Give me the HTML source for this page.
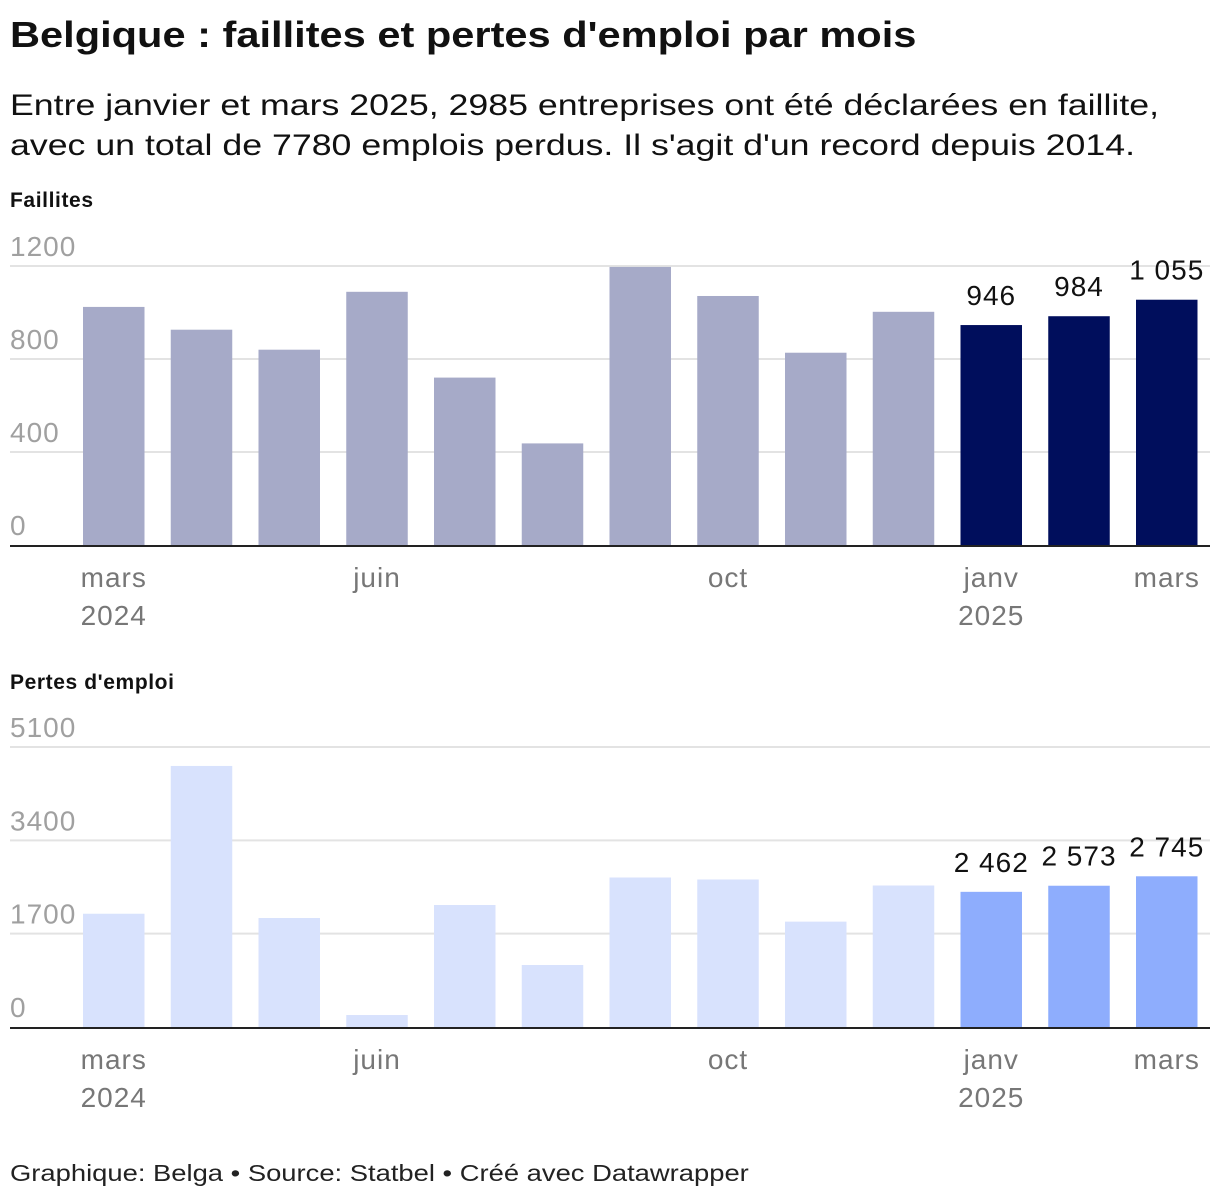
<!DOCTYPE html>
<html><head><meta charset="utf-8"><style>
body{margin:0;background:#fff;font-family:"Liberation Sans",sans-serif;}
#wrap{position:relative;width:1220px;height:1202px;overflow:hidden;}
.t{position:absolute;white-space:nowrap;transform-origin:0 0;}
</style></head><body><div id="wrap">
<div class="t" style="left:10px;top:14px;font-size:36px;font-weight:bold;color:#111;transform:scaleX(1.155);">Belgique : faillites et pertes d'emploi par mois</div>
<div class="t" style="left:10px;top:86px;font-size:30px;line-height:40px;color:#111;transform:scaleX(1.19);">Entre janvier et mars 2025, 2985 entreprises ont été déclarées en faillite,<br>avec un total de 7780 emplois perdus. Il s'agit d'un record depuis 2014.</div>
<div class="t" style="left:10px;top:1160px;font-size:23px;color:#222;transform:scaleX(1.19);">Graphique: Belga • Source: Statbel • Créé avec Datawrapper</div>
<svg id="svg" width="1220" height="1202" style="position:absolute;left:0;top:0"></svg>
</div>
<script>
const months = ["mars","avr","mai","juin","juil","août","sept","oct","nov","déc","janv","févr","mars"];
const faillites = [1024,926,840,1089,720,437,1196,1071,827,1003,946,984,1055];
const faillitesTicks = [0,400,800,1200];
const emplois = [2063,4755,1985,218,2222,1129,2723,2687,1919,2577,2462,2573,2745];
const emploisTicks = [0,1700,3400,5100];
const labelBars = [10,11,12];
const xLabelIdx = [0,3,7,10,12];
const yearLabels = {0:"2024",10:"2025"};
const NS="http://www.w3.org/2000/svg";
const svg=document.getElementById('svg');
function mk(tag,attrs){const e=document.createElementNS(NS,tag);for(const k in attrs)e.setAttribute(k,attrs[k]);svg.appendChild(e);return e;}
function xBand(i){return 83+i*87.75;}
const bw=61.5;
function fmt(v){const s=String(v);return s.length>3?s.slice(0,s.length-3)+" "+s.slice(-3):s;}
function drawPanel(o){
  const y=v=>o.base-(v/o.max)*(o.base-o.top);
  const h=mk('text',{x:10,y:o.titleY,'font-size':21,'font-weight':'bold',fill:'#111','font-family':'Liberation Sans','letter-spacing':0.6});
  h.textContent=o.title;
  
  
  o.ticks.forEach(t=>{
    const yy=y(t);
    if(t>0){const l=mk('line',{x1:10,x2:1210,y1:yy,y2:yy,stroke:'#e3e3e3','stroke-width':2});
      
      }
    const tx=mk('text',{x:10,y:yy-10,'font-size':28,fill:'#a0a0a0','font-family':'Liberation Sans','letter-spacing':1});
    tx.textContent=t;
    
    
  });
  o.vals.forEach((v,i)=>{
    const hi=labelBars.includes(i);
    const r=mk('rect',{x:xBand(i),y:y(v),width:bw,height:o.base-y(v),fill:hi?o.c2:o.c1});
    
    
    if(hi){const tx=mk('text',{x:xBand(i)+bw/2,y:y(v)-20,'font-size':28,fill:'#111','text-anchor':'middle','font-family':'Liberation Sans','letter-spacing':1});
      tx.textContent=fmt(v);
      
      }
  });
  const ax=mk('line',{x1:10,x2:1210,y1:o.base+1,y2:o.base+1,stroke:'#222','stroke-width':2});
  
  
  xLabelIdx.forEach(i=>{
    const tx=mk('text',{x:xBand(i)+bw/2,y:o.base+42,'font-size':28,fill:'#777','text-anchor':'middle','font-family':'Liberation Sans','letter-spacing':1});
    tx.textContent=months[i];
    
    
    if(yearLabels[i]){const ty=mk('text',{x:xBand(i)+bw/2,y:o.base+80,'font-size':28,fill:'#777','text-anchor':'middle','font-family':'Liberation Sans','letter-spacing':1});
      ty.textContent=yearLabels[i];
      
      }
  });
}
drawPanel({key:'faillites',title:'Faillites',titleY:207,vals:faillites,ticks:faillitesTicks,max:1200,top:266,base:545,c1:'#a6aac8',c2:'#000e5c'});
drawPanel({key:'emplois',title:"Pertes d'emploi",titleY:689,vals:emplois,ticks:emploisTicks,max:5100,top:747,base:1027,c1:'#d8e2fd',c2:'#8eadfd'});
</script>
</body></html>
